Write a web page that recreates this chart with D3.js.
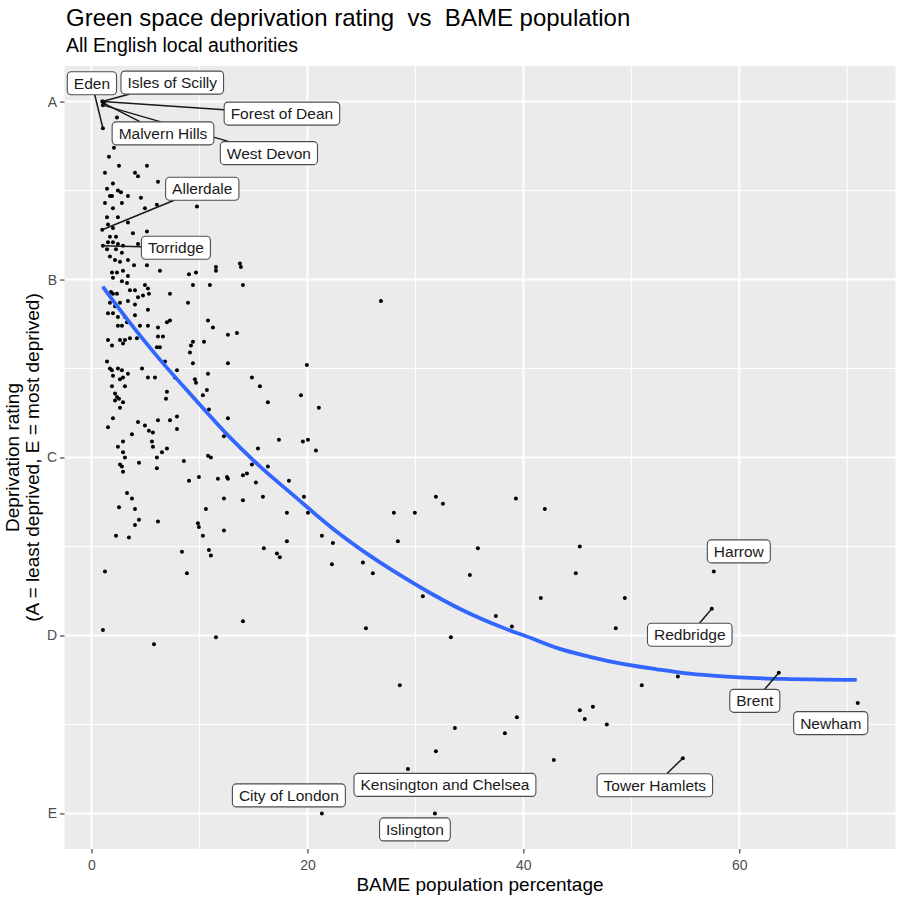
<!DOCTYPE html>
<html>
<head>
<meta charset="utf-8">
<script src="https://cdn.jsdelivr.net/npm/d3@7"></script>
<style>
body { margin: 0; background: #fff; }
svg text { font-family: "Liberation Sans", Arial, Helvetica, sans-serif; }
</style>
</head>
<body>
<svg id="chart"></svg>
<script>
// BAME population % and deprivation rating (1 = A ... 5 = E)
var bamePct = [
    2.36,2.08,1.62,2.55,5.14,4.03,4.31,1.25,1.99,6.16,
    1.44,2.45,2.73,1.71,1.90,3.38,4.58,6.06,9.77,1.25,
    1.99,2.82,4.95,1.44,2.45,3.38,1.53,1.99,5.14,3.84,
    1.71,2.27,1.53,1.99,2.45,2.92,4.31,1.44,2.27,2.82,
    1.71,2.18,2.64,3.38,3.94,5.14,11.53,11.53,13.75,13.84,
    1.90,2.36,2.92,3.38,1.99,2.82,6.34,9.03,9.68,9.40,
    10.97,14.03,1.81,1.99,2.36,3.29,4.95,5.23,3.56,4.03,
    4.77,5.32,4.31,7.27,8.94,1.71,2.18,2.64,3.38,4.03,
    4.03,3.10,5.23,1.99,1.53,2.45,3.29,2.45,2.82,4.49,
    5.23,6.16,6.99,7.27,10.79,11.25,12.64,13.47,1.53,1.90,
    2.64,3.10,3.56,2.92,4.21,6.16,6.62,6.06,6.34,9.40,
    9.21,10.42,9.12,9.40,12.64,19.95,6.81,1.44,1.71,1.90,
    1.99,2.45,2.82,2.92,2.64,3.38,4.68,5.23,5.88,7.92,
    7.73,9.58,9.68,10.79,14.86,15.60,16.34,19.40,21.06,1.90,
    2.18,2.36,2.55,2.18,2.64,3.10,2.92,6.99,10.32,6.90,
    10.69,1.99,1.53,4.31,4.95,3.75,5.32,6.16,7.27,7.92,
    7.92,10.88,12.64,12.27,17.36,19.58,20.05,20.79,2.45,2.92,
    2.92,5.60,5.69,6.06,6.53,6.99,3.10,2.64,2.82,2.92,
    4.40,6.06,8.56,10.79,11.06,15.42,14.86,16.34,14.03,14.40,
    12.55,12.64,11.71,9.95,9.03,15.23,18.29,19.68,20.05,3.29,
    3.75,2.55,4.03,4.40,4.03,6.16,9.86,9.95,10.32,12.27,
    10.60,12.27,14.03,15.88,18.10,18.10,21.34,22.36,22.27,2.27,
    3.47,8.38,10.88,11.06,15.97,17.18,17.45,5.69,1.25,1.06,
    5.79,8.84,11.53,14.03,26.81,25.14,26.06,28.01,29.95,31.90,
    32.55,28.38,35.79,35.05,30.69,25.42,33.29,37.45,39.31,41.99,
    45.23,44.86,41.62,49.40,38.94,48.56,54.31,50.97,47.73,28.56,
    33.66,31.90,39.40,38.29,42.82,45.23,46.44,45.69
];
var rating = [
    1.09,1.26,1.31,1.36,1.36,1.40,1.42,1.40,1.46,1.45,
    1.49,1.50,1.51,1.53,1.53,1.53,1.54,1.58,1.59,1.57,
    1.60,1.57,1.60,1.65,1.65,1.68,1.69,1.71,1.73,1.74,
    1.76,1.76,1.79,1.79,1.80,1.81,1.80,1.83,1.83,1.85,
    1.87,1.89,1.90,1.89,1.92,1.92,1.93,1.95,1.91,1.93,
    1.96,1.96,1.95,1.98,1.99,2.01,1.95,1.97,1.96,2.03,
    2.03,2.03,2.07,2.08,2.08,2.02,2.03,2.05,2.06,2.06,
    2.09,2.08,2.10,2.08,2.13,2.13,2.15,2.13,2.12,2.14,
    2.20,2.21,2.17,2.19,2.19,2.21,2.24,2.26,2.26,2.26,
    2.26,2.27,2.24,2.23,2.23,2.27,2.31,2.30,2.34,2.37,
    2.34,2.34,2.33,2.36,2.33,2.32,2.32,2.38,2.38,2.35,
    2.37,2.35,2.41,2.47,2.47,2.48,2.46,2.46,2.50,2.51,
    2.54,2.50,2.51,2.55,2.56,2.53,2.50,2.55,2.55,2.51,
    2.55,2.56,2.58,2.53,2.55,2.60,2.69,2.65,2.72,2.60,
    2.64,2.66,2.67,2.68,2.72,2.60,2.69,2.63,2.65,2.67,
    2.62,2.78,2.83,2.80,2.82,2.87,2.85,2.79,2.79,2.77,
    2.84,2.73,2.78,2.88,2.90,2.91,2.90,2.96,2.94,2.97,
    2.91,2.91,2.94,3.00,2.97,2.95,3.00,3.04,3.05,3.08,
    3.03,3.06,3.02,2.99,3.00,2.95,3.04,3.05,3.10,3.09,
    3.11,3.12,3.12,3.11,3.13,3.14,3.13,3.22,3.31,3.20,
    3.23,3.28,3.29,3.35,3.38,3.36,3.37,3.39,3.44,3.41,
    3.29,3.23,3.24,3.22,3.31,3.47,3.44,3.48,3.60,3.44,
    3.45,3.53,3.52,3.55,3.51,3.54,3.56,2.86,3.64,3.97,
    4.05,3.65,4.01,3.92,2.12,3.59,3.65,3.31,3.31,3.22,
    3.26,3.47,3.51,3.66,3.78,3.96,4.01,3.89,3.23,3.29,
    3.50,3.65,3.79,3.79,3.95,3.96,4.23,4.28,4.50,4.28,
    4.52,4.65,4.46,4.55,4.70,4.42,4.40,4.47
];

// named local authorities
var labelNames = ["Isles of Scilly", "Forest of Dean", "Malvern Hills", "West Devon", "Eden",
    "Allerdale", "Torridge", "Harrow", "Redbridge", "Brent", "Newham", "Tower Hamlets",
    "Kensington and Chelsea", "City of London", "Islington"];
var labelX = [1.0, 1.06, 1.16, 1.06, 1.06, 1.0, 1.06, 57.64, 57.45, 63.66, 70.97, 54.77, 29.31, 21.34, 31.81];
var labelY = [1.0, 1.0, 1.01, 1.02, 1.15, 1.72, 1.81, 3.64, 3.85, 4.21, 4.38, 4.69, 4.75, 5.0, 5.0];

// smoothed trend
var trendX = [1.04, 3.26, 6.34, 9.40, 12.55, 15.60, 18.66, 22.36, 25.51, 28.56, 31.62, 34.77,
    37.82, 40.95, 43.10, 46.16, 49.21, 52.35, 55.42, 58.47, 61.62, 64.68, 70.88];
var trendY = [2.04, 2.22, 2.45, 2.66, 2.87, 3.05, 3.21, 3.40, 3.54, 3.66, 3.77, 3.87,
    3.95, 4.02, 4.07, 4.12, 4.16, 4.19, 4.215, 4.23, 4.24, 4.245, 4.25];

var xTicks = [0, 20, 40, 60];
var xMinor = [10, 30, 50, 70];
var yTicks = [1, 2, 3, 4, 5];
var yTickLabels = ["A", "B", "C", "D", "E"];
var yMinor = [1.5, 2.5, 3.5, 4.5];

// where each label box sits relative to its point (px), ggrepel style
var labelOffsets = {
    "Isles of Scilly": [70, -19], "Forest of Dean": [179, 12], "Malvern Hills": [59, 30],
    "West Devon": [166, 48], "Eden": [-11, -45], "Allerdale": [100, -41], "Torridge": [73, 2],
    "Harrow": [25, -20], "Redbridge": [-22, 26], "Brent": [-24, 28], "Newham": [-27, 20],
    "Tower Hamlets": [-28, 27], "Kensington and Chelsea": [37, 16], "City of London": [-33, -18],
    "Islington": [-20, 16]
};

var width = 897, height = 901;
var panel = {left: 64.5, right: 895.5, top: 66, bottom: 849};

var svg = d3.select("#chart").attr("width", width).attr("height", height);

function expand(ext) {
    var pad = (ext[1] - ext[0]) * 0.05;
    return [ext[0] - pad, ext[1] + pad];
}
var x = d3.scaleLinear()
    .domain(expand(d3.extent(bamePct.concat(labelX))))
    .range([panel.left, panel.right]);
var y = d3.scaleLinear()
    .domain(expand(d3.extent(rating.concat(labelY))))
    .range([panel.top, panel.bottom]);

// panel + grid
svg.append("rect")
    .attr("x", panel.left).attr("y", panel.top)
    .attr("width", panel.right - panel.left).attr("height", panel.bottom - panel.top)
    .attr("fill", "#EBEBEB");

var grid = svg.append("g").attr("stroke", "#fff");
grid.selectAll(".vminor").data(xMinor).join("line")
    .attr("x1", d => x(d)).attr("x2", d => x(d))
    .attr("y1", panel.top).attr("y2", panel.bottom).attr("stroke-width", 1);
grid.selectAll(".hminor").data(yMinor).join("line")
    .attr("y1", d => y(d)).attr("y2", d => y(d))
    .attr("x1", panel.left).attr("x2", panel.right).attr("stroke-width", 1);
grid.selectAll(".vmajor").data(xTicks).join("line")
    .attr("x1", d => x(d)).attr("x2", d => x(d))
    .attr("y1", panel.top).attr("y2", panel.bottom).attr("stroke-width", 2);
grid.selectAll(".hmajor").data(yTicks).join("line")
    .attr("y1", d => y(d)).attr("y2", d => y(d))
    .attr("x1", panel.left).attr("x2", panel.right).attr("stroke-width", 2);

// axes
var xAxis = svg.append("g")
    .attr("transform", `translate(0,${panel.bottom})`)
    .call(d3.axisBottom(x).tickValues(xTicks).tickSize(4.5).tickPadding(7));
var yAxis = svg.append("g")
    .attr("transform", `translate(${panel.left},0)`)
    .call(d3.axisLeft(y).tickValues(yTicks).tickFormat((d, i) => yTickLabels[i]).tickSize(4.5).tickPadding(3));
[xAxis, yAxis].forEach(function(g) {
    g.select(".domain").remove();
    g.attr("font-family", null).attr("font-size", null);
    g.selectAll(".tick line").attr("stroke", "#333").attr("stroke-width", 1.1);
    g.selectAll(".tick text").attr("fill", "#4D4D4D").style("font-size", "14px");
});

// points
var points = bamePct.map((d, i) => ({x: d, y: rating[i]}));
var labelled = labelNames.map((n, i) => ({name: n, x: labelX[i], y: labelY[i]}));
svg.append("g").selectAll("circle")
    .data(points.concat(labelled))
    .join("circle")
    .attr("cx", d => x(d.x))
    .attr("cy", d => y(d.y))
    .attr("r", 2)
    .attr("fill", "#000");

// trend line
var trend = trendX.map((d, i) => [d, trendY[i]]);
svg.append("path")
    .datum(trend)
    .attr("fill", "none")
    .attr("stroke", "#3366FF")
    .attr("stroke-width", 3.8)
    .attr("d", d3.line().x(d => x(d[0])).y(d => y(d[1])).curve(d3.curveMonotoneX));

// labels: boxes measured from their text, segments drawn underneath
var segLayer = svg.append("g");
var boxLayer = svg.append("g");
var boxH = 23, padX = 6.5;

labelled.forEach(function(d) {
    var px = x(d.x), py = y(d.y);
    var off = labelOffsets[d.name];
    var cx = px + off[0], cy = py + off[1];
    var g = boxLayer.append("g");
    var rect = g.append("rect");
    var t = g.append("text")
        .attr("x", cx).attr("y", cy + 5.5)
        .attr("text-anchor", "middle")
        .attr("fill", "#1a1a1a")
        .style("font-size", "15.5px")
        .text(d.name);
    var w = t.node().getComputedTextLength() + 2 * padX;
    rect.attr("x", cx - w / 2).attr("y", cy - boxH / 2)
        .attr("width", w).attr("height", boxH)
        .attr("rx", 4)
        .attr("fill", "#fff")
        .attr("stroke", "#4d4d4d")
        .attr("stroke-width", 1.1);

    // segment from point to where the line toward the box centre meets the box
    var dx = cx - px, dy = cy - py;
    var tx = dx !== 0 ? (cx - Math.sign(dx) * w / 2 - px) / dx : -Infinity;
    var ty = dy !== 0 ? (cy - Math.sign(dy) * boxH / 2 - py) / dy : -Infinity;
    var tt = Math.max(tx, ty);
    var len = tt * Math.sqrt(dx * dx + dy * dy);
    if (tt > 0 && len > 15) {
        segLayer.append("line")
            .attr("x1", px).attr("y1", py)
            .attr("x2", px + tt * dx).attr("y2", py + tt * dy)
            .attr("stroke", "#1a1a1a")
            .attr("stroke-width", 1.5);
    }
});

// titles
svg.append("text")
    .attr("x", 66).attr("y", 26)
    .style("font-size", "24px")
    .style("white-space", "pre")
    .attr("fill", "#000")
    .text("Green space deprivation rating  vs  BAME population");
svg.append("text")
    .attr("x", 66).attr("y", 52)
    .style("font-size", "19.5px")
    .attr("fill", "#000")
    .text("All English local authorities");

svg.append("text")
    .attr("x", (panel.left + panel.right) / 2).attr("y", 891)
    .attr("text-anchor", "middle")
    .style("font-size", "19px")
    .text("BAME population percentage");

var midY = (panel.top + panel.bottom) / 2;
svg.append("text")
    .attr("transform", `translate(19,${midY}) rotate(-90)`)
    .attr("text-anchor", "middle")
    .style("font-size", "19px")
    .text("Deprivation rating");
svg.append("text")
    .attr("transform", `translate(39,${midY}) rotate(-90)`)
    .attr("text-anchor", "middle")
    .style("font-size", "19px")
    .text("(A = least deprived, E = most deprived)");
</script>
</body>
</html>
